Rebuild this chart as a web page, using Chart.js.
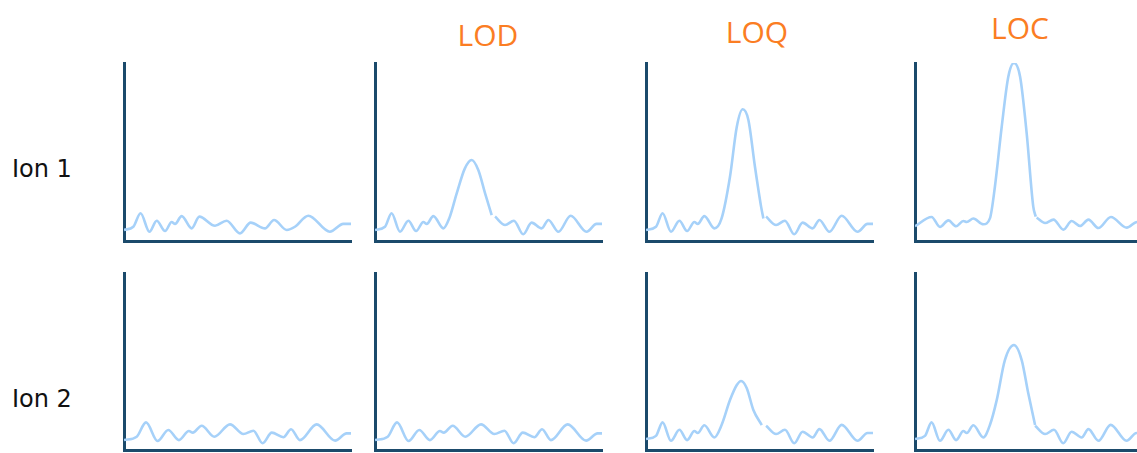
<!DOCTYPE html>
<html>
<head>
<meta charset="utf-8">
<script src="https://cdn.jsdelivr.net/npm/chart.js@4"></script>
<style>
  body { margin: 0; background: #fff; width: 1137px; height: 453px; overflow: hidden; position: relative; }
  .panel { position: absolute; }
  .colTitle { position: absolute; font-family: "Open Sans", sans-serif; font-size: 30px; color: #fb7d23; transform: translate(-50%, -50%); white-space: nowrap; }
  .rowLabel { position: absolute; font-family: "DejaVu Sans", Verdana, sans-serif; font-size: 24px; color: #111; white-space: nowrap; }
</style>
</head>
<body>
<div class="colTitle" style="left:488px; top:34px;">LOD</div>
<div class="colTitle" style="left:757px; top:31px;">LOQ</div>
<div class="colTitle" style="left:1020px; top:27px;">LOC</div>
<div class="rowLabel" style="left:12px; top:155px;">Ion 1</div>
<div class="rowLabel" style="left:12px; top:385px;">Ion 2</div>

<canvas id="c11" class="panel"></canvas>
<canvas id="c12" class="panel"></canvas>
<canvas id="c13" class="panel"></canvas>
<canvas id="c14" class="panel"></canvas>
<canvas id="c21" class="panel"></canvas>
<canvas id="c22" class="panel"></canvas>
<canvas id="c23" class="panel"></canvas>
<canvas id="c24" class="panel"></canvas>

<script>
// baseline noise, no analyte (x = retention 0..100, y = signal 0..100)
const blankIon1X = [0, 4.1, 7.3, 11.2, 14.4, 18.1, 21.0, 22.5, 25.4, 29.8, 33.2, 40.1, 45.2, 51.1, 55.8, 62.1, 66.1, 71.7, 75.3, 81.2, 90.7, 96.6, 100];
const blankIon1Y = [6.2, 8.0, 15.6, 5.2, 11.4, 5.6, 10.7, 9.6, 14.0, 7.1, 13.7, 8.6, 11.4, 4.3, 10.3, 7.1, 11.8, 6.2, 8.0, 14.2, 5.2, 9.6, 9.6];
const blankIon2X = [0, 5.6, 9.7, 14.8, 19.5, 24.2, 28.6, 30.3, 34.2, 39.8, 46.7, 52.6, 57.0, 61.1, 65.1, 70.2, 73.6, 77.5, 84.9, 93.0, 98.1, 100];
const blankIon2Y = [5.6, 7.5, 15.6, 5.1, 11.3, 5.6, 10.7, 9.8, 13.7, 7.5, 14.5, 9.0, 10.9, 3.8, 9.8, 7.2, 11.7, 5.6, 14.5, 5.3, 9.4, 9.4];

// noise around the peak (before / after)
const noiseLeftX = [0, 4.4, 7.3, 11.0, 14.7, 18.1, 21.3, 22.8, 25.7, 30.1];
const noiseLeftY = [6.2, 8.0, 15.6, 5.2, 11.4, 5.6, 10.7, 9.6, 14.0, 7.1];
const noiseRightX = [52.9, 57.3, 61.2, 65.3, 69.0, 73.4, 76.4, 80.8, 86.2, 93.2, 97.6, 100];
const noiseRightY = [13.7, 9.0, 11.4, 3.8, 10.3, 7.1, 11.8, 5.2, 14.2, 5.2, 9.6, 9.6];
// LOC ion 1 is drawn on a compressed scale so its noise is flatter
const locNoiseLeftX = [0, 7.3, 11.0, 14.7, 18.1, 21.3, 22.8, 25.7, 30.1];
const locNoiseLeftY = [8.3, 13.5, 7.9, 11.6, 8.3, 11.2, 10.7, 12.6, 9.4];
const locNoiseRightX = [53.6, 57.3, 61.0, 65.4, 69.0, 72.7, 76.4, 80.8, 86.3, 93.3, 97.8, 100];
const locNoiseRightY = [13.1, 10.1, 12.0, 6.4, 11.2, 8.4, 12.0, 7.3, 13.5, 7.5, 10.7, 10.7];

// peaks
const lodIon1X = [32.7, 36.0, 39.6, 42.6, 45.5, 48.5, 51.4];
const lodIon1Y = [12.7, 26.8, 40.8, 45.5, 39.9, 26.8, 14.6];
const loqIon1X = [33.3, 37.0, 40.0, 42.6, 45.1, 48.0, 50.7, 51.7];
const loqIon1Y = [12.7, 36.1, 64.2, 74.0, 68.0, 41.7, 19.3, 12.7];
const locIon1X = [33.0, 35.2, 38.2, 41.1, 43.6, 46.3, 49.2, 52.1, 53.2];
const locIon1Y = [12.7, 30.5, 64.2, 92.3, 100, 92.3, 60.5, 19.3, 13.7];
const loqIon2X = [33.3, 37.0, 40.0, 41.9, 44.4, 47.3, 51.0];
const loqIon2Y = [14.1, 28.2, 36.7, 39.0, 34.9, 22.6, 14.1];
const locIon2X = [33.0, 36.0, 39.6, 43.6, 47.0, 49.9, 52.9];
const locIon2Y = [14.1, 28.2, 50.8, 59.3, 50.8, 32.0, 14.1];

const axisColor = '#1b4a6b';
const lineColor = '#a6d1f9';

const pts = (xs, ys) => xs.map((x, i) => ({ x: x, y: ys[i] }));

// left noise + peak, a break, then right noise
const withPeak = (lx, ly, px, py, rx, ry) =>
  pts(lx, ly).concat(pts(px, py), [{ x: (px[px.length - 1] + rx[0]) / 2, y: null }], pts(rx, ry));

const pad = 6;
const placePanel = (id, left, top, w, h) => {
  const c = document.getElementById(id);
  c.width = w + 2 * pad;
  c.height = h + 2 * pad;
  c.style.left = (left - pad) + 'px';
  c.style.top = (top - pad) + 'px';
  return c;
};

const makePanel = (id, left, top, w, h, points) => {
  const canvas = placePanel(id, left, top, w, h);
  const axisOpts = {
    grid: { display: false, drawTicks: false },
    ticks: { display: false },
    border: { display: true, color: axisColor, width: 3 }
  };
  new Chart(canvas, {
    type: 'line',
    data: {
      datasets: [{
        data: points,
        borderColor: lineColor,
        borderWidth: 2.6,
        pointRadius: 0,
        cubicInterpolationMode: 'monotone',
        spanGaps: false,
        fill: false
      }]
    },
    options: {
      responsive: false,
      animation: false,
      layout: { padding: pad },
      plugins: { legend: { display: false }, tooltip: { enabled: false } },
      scales: {
        x: Object.assign({ type: 'linear', min: 0, max: 100 }, axisOpts),
        y: Object.assign({ min: 0, max: 100 }, axisOpts)
      }
    }
  });
};

makePanel('c11', 124, 63, 227, 178, pts(blankIon1X, blankIon1Y));
makePanel('c12', 375, 63, 227, 178, withPeak(noiseLeftX, noiseLeftY, lodIon1X, lodIon1Y, noiseRightX, noiseRightY));
makePanel('c13', 646, 63, 227, 178, withPeak(noiseLeftX, noiseLeftY, loqIon1X, loqIon1Y, noiseRightX, noiseRightY));
makePanel('c14', 915, 63, 227, 178, withPeak(locNoiseLeftX, locNoiseLeftY, locIon1X, locIon1Y, locNoiseRightX, locNoiseRightY));
makePanel('c21', 124, 273, 227, 177, pts(blankIon2X, blankIon2Y));
makePanel('c22', 375, 273, 227, 177, pts(blankIon2X, blankIon2Y));
makePanel('c23', 646, 273, 227, 177, withPeak(noiseLeftX, noiseLeftY, loqIon2X, loqIon2Y, noiseRightX, noiseRightY));
makePanel('c24', 915, 273, 227, 177, withPeak(noiseLeftX, noiseLeftY, locIon2X, locIon2Y, noiseRightX, noiseRightY));
</script>
</body>
</html>
